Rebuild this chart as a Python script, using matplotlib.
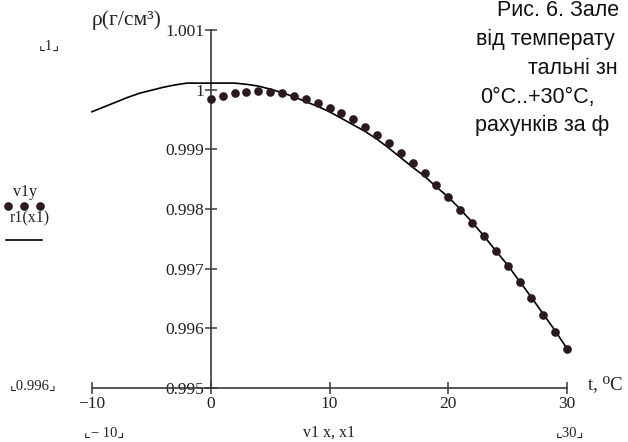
import matplotlib
matplotlib.use("Agg")
import matplotlib.pyplot as plt
from matplotlib.lines import Line2D

# ---- data ----
v1x = list(range(0, 31))
v1y = [0.99984, 0.99990, 0.99994, 0.99996, 0.99997, 0.99996, 0.99994, 0.99990,
       0.99985, 0.99978, 0.99970, 0.99961, 0.99950, 0.99938, 0.99924, 0.99910,
       0.99894, 0.99877, 0.99860, 0.99841, 0.99820, 0.99799, 0.99777, 0.99754,
       0.99730, 0.99705, 0.99678, 0.99651, 0.99623, 0.99594, 0.99565]

x1 = list(range(-10, 31))
r1 = [0.99963, 0.99971, 0.99979, 0.99987, 0.99994, 0.99999, 1.00004, 1.00008,
      1.00011, 1.00011, 1.00011, 1.00011, 1.00011, 1.00009, 1.00006, 1.00001,
      0.99995, 0.99988, 0.99980, 0.99972, 0.99963, 0.99952, 0.99941, 0.99930,
      0.99917, 0.99902, 0.99886, 0.99870, 0.99855, 0.99837, 0.99820, 0.99800,
      0.99778, 0.99755, 0.99730, 0.99706, 0.99679, 0.99652, 0.99624, 0.99596,
      0.99566]

xticks = [-10, 0, 10, 20, 30]
xticklabels = ["\u221210", "0", "10", "20", "30"]
yticks = [0.995, 0.996, 0.997, 0.998, 0.999, 1.000, 1.001]
yticklabels = ["0.995", "0.996", "0.997", "0.998", "0.999", "1", "1.001"]

caption = ["Рис. 6. Зале", "від температу", "тальні зн", "0°C..+30°C,", "рахунків за ф"]

SERIF = ["Liberation Serif", "DejaVu Serif", "DejaVu Sans"]
SANS = ["Liberation Sans", "DejaVu Sans"]

W, H = 628, 442
fig = plt.figure(figsize=(W / 100, H / 100), dpi=100)

def fx(px):
    return px / W

def fy(py):
    return 1 - py / H

ax = fig.add_axes([fx(92), fy(388), (567 - 92) / W, (388 - 30) / H])
ax.set_xlim(-10, 30)
ax.set_ylim(0.995, 1.001)
ax.patch.set_alpha(0)

axis_col = "#3a3a3a"
ax.spines["top"].set_visible(False)
ax.spines["right"].set_visible(False)
ax.spines["left"].set_position(("data", 0))
for s in ("left", "bottom"):
    ax.spines[s].set_color(axis_col)
    ax.spines[s].set_linewidth(1.2)

ax.set_xticks(xticks)
ax.set_xticklabels(xticklabels)
ax.set_yticks(yticks)
ax.set_yticklabels(yticklabels)
ax.tick_params(direction="inout", length=8, width=1.1, color=axis_col,
               labelsize=12.5, labelcolor="#222222")
ax.tick_params(axis="y", pad=0.5)
ax.tick_params(axis="x", pad=1.5)
for lab in ax.get_xticklabels() + ax.get_yticklabels():
    lab.set_fontfamily(SERIF)

ax.plot(x1, r1, color="black", lw=1.2, clip_on=False, zorder=3)
ax.plot(v1x, v1y, linestyle="none", marker="o", markersize=5.2,
        color="#2b1a1d", clip_on=False, zorder=4)

# axis titles
fig.text(fx(92), fy(20), "ρ(г/см³)", family=SERIF, fontsize=15.5,
         ha="left", va="center", color="#222222")
fig.text(fx(588), fy(385), "t, \u2070C", family=SERIF, fontsize=13.5,
         ha="left", va="center", color="#222222")

# Mathcad placeholders
ph = dict(family=SERIF, fontsize=10.5, color="#222222", va="center")
fig.text(fx(49), fy(46), "\u231e1\u231f", ha="center", **ph)
fig.text(fx(33), fy(386), "\u231e0.996\u231f", ha="center", **ph)
fig.text(fx(104), fy(433), "\u231e\u2212 10\u231f", ha="center", **ph)
fig.text(fx(329), fy(433), "v1 x, x1", ha="center",
         **{**ph, "fontsize": 11.5})
fig.text(fx(570), fy(433), "\u231e30\u231f", ha="center", **ph)

# legend (Mathcad style)
fig.text(fx(25), fy(192), "v1y", ha="center", **{**ph, "fontsize": 11.5})
fig.add_artist(Line2D([fx(8), fx(24), fx(40)], [fy(206)] * 3, linestyle="none",
                      marker="o", markersize=5.2, color="#2b1a1d",
                      transform=fig.transFigure))
fig.text(fx(30), fy(218), "r1(x1)", ha="center", **{**ph, "fontsize": 11.5})
fig.add_artist(Line2D([fx(6), fx(42)], [fy(240)] * 2, color="black", lw=1.2,
                      transform=fig.transFigure))

# caption (cropped at right)
cap_x = [497, 476, 528, 480, 475]
cap_base = [16, 45, 74, 103, 131]
for t, xx, yy in zip(caption, cap_x, cap_base):
    fig.text(fx(xx), fy(yy), t, family=SANS, fontsize=15.5, ha="left",
             va="baseline", color="#111111")

fig.savefig("out.png", dpi=100)
